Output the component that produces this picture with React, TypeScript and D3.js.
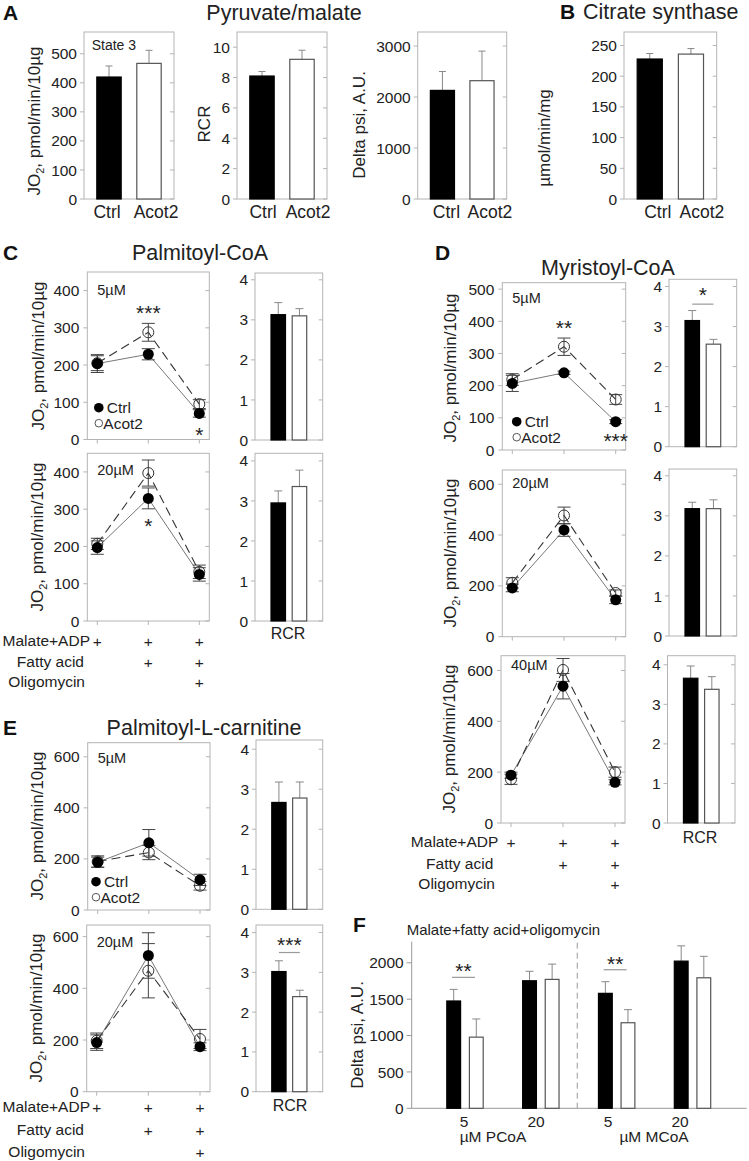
import React from "react";
import * as d3 from "d3";

const FONT = "'Liberation Sans', Arial, Helvetica, sans-serif";
const FRAME = "#b4b4b4";
const TXT = "#222";

// ---------- data ----------
const groups = ["Ctrl", "Acot2"];
const conditionSteps = [0, 1, 2];
const conditionRows = ["Malate+ADP", "Fatty acid", "Oligomycin"];
const conditionMarks = [
  [1, 1, 1],
  [0, 1, 1],
  [0, 0, 1],
];

// A: Pyruvate/malate
const state3Ticks = [0, 100, 200, 300, 400, 500];
const state3Mean = [420, 467];
const state3Err = [38, 45];
const rcrATicks = [0, 2, 4, 6, 8, 10];
const rcrAMean = [8.1, 9.2];
const rcrAErr = [0.3, 0.6];
const psiATicks = [0, 1000, 2000, 3000];
const psiAMean = [2130, 2320];
const psiAErr = [370, 580];
// B: Citrate synthase
const csTicks = [0, 50, 100, 150, 200, 250];
const csMean = [228, 236];
const csErr = [9, 9];

const rcrTicks = [0, 1, 2, 3, 4];
const jo400Ticks = [0, 100, 200, 300, 400];
const jo500Ticks = [0, 100, 200, 300, 400, 500];
const jo600Ticks = [0, 200, 400, 600];

// C: Palmitoyl-CoA
const pcoa5Ctrl = [204, 229, 70];
const pcoa5CtrlErr = [24, 15, 10];
const pcoa5Acot = [205, 288, 95];
const pcoa5AcotErr = [20, 24, 12];
const pcoa5Rcr = [3.13, 3.1];
const pcoa5RcrErr = [0.3, 0.18];
const pcoa20Ctrl = [197, 329, 125];
const pcoa20CtrlErr = [18, 28, 18];
const pcoa20Acot = [207, 397, 132];
const pcoa20AcotErr = [15, 35, 18];
const pcoa20Rcr = [2.95, 3.36];
const pcoa20RcrErr = [0.3, 0.41];

// D: Myristoyl-CoA
const mcoa5Ctrl = [207, 240, 88];
const mcoa5CtrlErr = [25, 5, 6];
const mcoa5Acot = [219, 321, 157];
const mcoa5AcotErr = [18, 27, 15];
const mcoa5Rcr = [3.15, 2.56];
const mcoa5RcrErr = [0.25, 0.12];
const mcoa20Ctrl = [192, 420, 145];
const mcoa20CtrlErr = [15, 25, 15];
const mcoa20Acot = [212, 477, 172];
const mcoa20AcotErr = [20, 33, 12];
const mcoa20Rcr = [3.18, 3.18];
const mcoa20RcrErr = [0.16, 0.22];
const mcoa40Ctrl = [188, 538, 160];
const mcoa40CtrlErr = [12, 50, 10];
const mcoa40Acot = [172, 602, 200];
const mcoa40AcotErr = [20, 45, 20];
const mcoa40Rcr = [3.66, 3.38];
const mcoa40RcrErr = [0.31, 0.32];

// E: Palmitoyl-L-carnitine
const plc5Ctrl = [187, 263, 118];
const plc5CtrlErr = [20, 52, 22];
const plc5Acot = [190, 225, 95];
const plc5AcotErr = [22, 28, 17];
const plc5Rcr = [2.67, 2.78];
const plc5RcrErr = [0.51, 0.4];
const plc20Ctrl = [190, 527, 174];
const plc20CtrlErr = [30, 88, 15];
const plc20Acot = [197, 468, 204];
const plc20AcotErr = [30, 105, 37];
const plc20Rcr = [3.02, 2.39];
const plc20RcrErr = [0.27, 0.16];

// F: Delta psi
const fGroups = ["P5", "P20", "M5", "M20"];
const fLabels = ["5", "20", "5", "20"];
const fTicks = [0, 500, 1000, 1500, 2000];
const fCtrl = [1475, 1753, 1580, 2023];
const fCtrlErr = [160, 130, 160, 210];
const fAcot = [978, 1772, 1176, 1794];
const fAcotErr = [250, 210, 180, 295];

// ---------- helpers ----------
type Sig = { idx: number; text: string; below?: boolean };

function RotLabel({ x, y, size = 17, children }: any) {
  return (
    <text
      transform={`translate(${x},${y}) rotate(-90)`}
      textAnchor="middle"
      fontSize={size}
      fill={TXT}
    >
      {children}
    </text>
  );
}

function JOLabel({ x, y }: { x: number; y: number }) {
  return (
    <RotLabel x={x} y={y}>
      <tspan>JO</tspan>
      <tspan fontSize={11} dy={4}>
        2
      </tspan>
      <tspan dy={-4}>, pmol/min/10µg</tspan>
    </RotLabel>
  );
}

function FramedBars(props: {
  left: number;
  right: number;
  top: number;
  bottom: number;
  yMax: number;
  ticks: number[];
  means: number[];
  errs: number[];
  pi: number;
  po: number;
  cap?: number;
  sig?: string;
  sigLine?: number;
  sigText?: number;
}) {
  const { left, right, top, bottom, yMax, ticks, means, errs, pi, po } = props;
  const cap = props.cap ?? 3.5;
  const y = d3.scaleLinear().domain([0, yMax]).range([bottom, top]);
  const x = d3
    .scaleBand<string>()
    .domain(groups)
    .range([left, right])
    .paddingInner(pi)
    .paddingOuter(po);
  const bw = x.bandwidth();
  const topVal = d3.max(means.map((m, i) => m + errs[i])) as number;
  return (
    <g>
      <rect
        x={left}
        y={top}
        width={right - left}
        height={bottom - top}
        fill="none"
        stroke={FRAME}
      />
      {ticks.map((t) => (
        <g key={t}>
          <line x1={left - 4} x2={left} y1={y(t)} y2={y(t)} stroke={FRAME} />
          <line x1={right - 4} x2={right} y1={y(t)} y2={y(t)} stroke={FRAME} />
          <text
            x={left - 7}
            y={y(t)}
            dy="0.36em"
            textAnchor="end"
            fontSize={15.5}
            fill={TXT}
          >
            {t}
          </text>
        </g>
      ))}
      {groups.map((g, i) => {
        const cx = (x(g) as number) + bw / 2;
        const yt = y(means[i] + errs[i]);
        return (
          <g key={g}>
            <line x1={cx} x2={cx} y1={y(means[i])} y2={yt} stroke="#888" />
            <line x1={cx - cap} x2={cx + cap} y1={yt} y2={yt} stroke="#888" />
            <rect
              x={x(g)}
              y={y(means[i])}
              width={bw}
              height={bottom - y(means[i])}
              fill={i === 0 ? "#000" : "#fff"}
              stroke={i === 0 ? "#000" : "#555"}
              strokeWidth={1.2}
            />
          </g>
        );
      })}
      {props.sig && (
        <g>
          <line
            x1={(x(groups[0]) as number) + bw / 2}
            x2={(x(groups[1]) as number) + bw / 2}
            y1={y(topVal) - (props.sigLine ?? 7)}
            y2={y(topVal) - (props.sigLine ?? 7)}
            stroke="#999"
            strokeWidth={1.2}
          />
          <text
            x={((x(groups[0]) as number) + (x(groups[1]) as number) + bw) / 2}
            y={y(topVal) - (props.sigText ?? 19) + 10.5}
            textAnchor="middle"
            fontSize={21}
            fill={TXT}
          >
            {props.sig}
          </text>
        </g>
      )}
    </g>
  );
}

function LinePanel(props: {
  left: number;
  right: number;
  top: number;
  bottom: number;
  yMax: number;
  ticks: number[];
  ctrl: number[];
  ctrlErr: number[];
  acot: number[];
  acotErr: number[];
  label: string;
  labelY: number;
  sigs?: Sig[];
  legend?: { x: number; y: number };
}) {
  const { left, right, top, bottom, yMax, ticks, ctrl, ctrlErr, acot, acotErr } =
    props;
  const x = d3.scaleLinear().domain([0, 2]).range([left + 10, right - 10]);
  const y = d3.scaleLinear().domain([0, yMax]).range([bottom, top]);
  const line = d3
    .line<number>()
    .x((_, i) => x(conditionSteps[i]))
    .y((d) => y(d));
  const errBars = (vals: number[], errs: number[], key: string) =>
    vals.map((v, i) => {
      const cx = x(conditionSteps[i]);
      const y1 = y(v + errs[i]);
      const y2 = y(v - errs[i]);
      return (
        <g key={key + i} stroke="#444" strokeWidth={1}>
          <line x1={cx} x2={cx} y1={y1} y2={y2} />
          <line x1={cx - 6.5} x2={cx + 6.5} y1={y1} y2={y1} />
          <line x1={cx - 6.5} x2={cx + 6.5} y1={y2} y2={y2} />
        </g>
      );
    });
  return (
    <g>
      <rect
        x={left}
        y={top}
        width={right - left}
        height={bottom - top}
        fill="none"
        stroke={FRAME}
      />
      {ticks.map((t) => (
        <g key={t}>
          <line x1={left - 4} x2={left} y1={y(t)} y2={y(t)} stroke={FRAME} />
          <line x1={right - 4} x2={right} y1={y(t)} y2={y(t)} stroke={FRAME} />
          <text
            x={left - 8}
            y={y(t)}
            dy="0.36em"
            textAnchor="end"
            fontSize={15.5}
            fill={TXT}
          >
            {t}
          </text>
        </g>
      ))}
      {conditionSteps.map((s) => (
        <line
          key={s}
          x1={x(s)}
          x2={x(s)}
          y1={bottom}
          y2={bottom + 4}
          stroke={FRAME}
        />
      ))}
      <text x={left + 10} y={props.labelY} fontSize={14.5} fill={TXT}>
        {props.label}
      </text>
      <path d={line(ctrl) as string} fill="none" stroke="#777" strokeWidth={1} />
      <path
        d={line(acot) as string}
        fill="none"
        stroke="#333"
        strokeWidth={1.1}
        strokeDasharray="9,5"
      />
      {errBars(acot, acotErr, "a")}
      {errBars(ctrl, ctrlErr, "c")}
      {acot.map((v, i) => (
        <circle
          key={"ao" + i}
          cx={x(conditionSteps[i])}
          cy={y(v)}
          r={5.5}
          fill="none"
          stroke="#333"
          strokeWidth={1}
        />
      ))}
      {ctrl.map((v, i) => (
        <circle
          key={"co" + i}
          cx={x(conditionSteps[i])}
          cy={y(v)}
          r={5.5}
          fill="#000"
        />
      ))}
      {(props.sigs || []).map((s, k) => {
        const i = s.idx;
        const yy = s.below
          ? y(Math.min(ctrl[i] - ctrlErr[i], acot[i] - acotErr[i])) + 14
          : y(Math.max(ctrl[i] + ctrlErr[i], acot[i] + acotErr[i])) - 14;
        return (
          <text
            key={"s" + k}
            x={x(conditionSteps[i])}
            y={yy + 10.5}
            textAnchor="middle"
            fontSize={21}
            fill={TXT}
          >
            {s.text}
          </text>
        );
      })}
      {props.legend && (
        <g fontSize={15.5} fill={TXT}>
          <circle cx={props.legend.x} cy={props.legend.y} r={4.8} fill="#000" />
          <text x={props.legend.x + 8} y={props.legend.y + 5.5}>
            Ctrl
          </text>
          <circle
            cx={props.legend.x}
            cy={props.legend.y + 15.5}
            r={3.8}
            fill="none"
            stroke="#555"
          />
          <text x={props.legend.x + 4.5} y={props.legend.y + 21}>
            Acot2
          </text>
        </g>
      )}
    </g>
  );
}

function ConditionTable({
  left,
  right,
  labelEnd,
  baselines,
}: {
  left: number;
  right: number;
  labelEnd: number[];
  baselines: number[];
}) {
  const x = d3.scaleLinear().domain([0, 2]).range([left + 10, right - 10]);
  return (
    <g fontSize={15.5} fill={TXT}>
      {conditionRows.map((r, ri) => (
        <g key={r}>
          <text x={labelEnd[ri]} y={baselines[ri]} textAnchor="end">
            {r}
          </text>
          {conditionMarks[ri].map((m, ci) =>
            m ? (
              <text
                key={ci}
                x={x(conditionSteps[ci])}
                y={baselines[ri] + 1}
                textAnchor="middle"
              >
                +
              </text>
            ) : null
          )}
        </g>
      ))}
    </g>
  );
}

function GroupLabels({
  left,
  right,
  pi,
  po,
  y,
  shift,
}: {
  left: number;
  right: number;
  pi: number;
  po: number;
  y: number;
  shift: number[];
}) {
  const x = d3
    .scaleBand<string>()
    .domain(groups)
    .range([left, right])
    .paddingInner(pi)
    .paddingOuter(po);
  return (
    <g fontSize={17.5} fill={TXT}>
      {groups.map((g, i) => (
        <text
          key={g}
          x={(x(g) as number) + x.bandwidth() / 2 + shift[i]}
          y={y}
          textAnchor="middle"
        >
          {g}
        </text>
      ))}
    </g>
  );
}

function PanelF() {
  const left = 411.7;
  const right = 746.7;
  const top = 941.7;
  const bottom = 1108.3;
  const y = d3.scaleLinear().domain([0, 2290]).range([bottom, top]);
  const gx = d3.scalePoint<string>().domain(fGroups).range([465, 692.5]);
  const lx = d3.scalePoint<string>().domain(fGroups).range([464, 680]);
  const bw = 13.8;
  const off = 4.4;
  const sigGroups = [0, 2];
  return (
    <g>
      <line x1={left} x2={left} y1={top} y2={bottom} stroke="#999" />
      <line x1={left} x2={right} y1={bottom} y2={bottom} stroke="#999" />
      {fTicks.map((t) => (
        <g key={t}>
          <line x1={left - 5} x2={left} y1={y(t)} y2={y(t)} stroke="#999" />
          <text
            x={left - 8}
            y={y(t)}
            dy="0.36em"
            textAnchor="end"
            fontSize={15.5}
            fill={TXT}
          >
            {t}
          </text>
        </g>
      ))}
      <line
        x1={(gx(fGroups[1])! + gx(fGroups[2])!) / 2 - 1.5}
        x2={(gx(fGroups[1])! + gx(fGroups[2])!) / 2 - 1.5}
        y1={top + 1}
        y2={bottom}
        stroke="#999"
        strokeDasharray="6,4"
      />
      {fGroups.map((g, i) => {
        const c = gx(g)!;
        const bars = [
          { v: fCtrl[i], e: fCtrlErr[i], x: c - off - bw, fill: "#000", st: "#000" },
          { v: fAcot[i], e: fAcotErr[i], x: c + off, fill: "#fff", st: "#555" },
        ];
        return (
          <g key={g}>
            {bars.map((b, k) => (
              <g key={k}>
                <line
                  x1={b.x + bw / 2}
                  x2={b.x + bw / 2}
                  y1={y(b.v)}
                  y2={y(b.v + b.e)}
                  stroke="#888"
                />
                <line
                  x1={b.x + bw / 2 - 4}
                  x2={b.x + bw / 2 + 4}
                  y1={y(b.v + b.e)}
                  y2={y(b.v + b.e)}
                  stroke="#888"
                />
                <rect
                  x={b.x}
                  y={y(b.v)}
                  width={bw}
                  height={bottom - y(b.v)}
                  fill={b.fill}
                  stroke={b.st}
                  strokeWidth={1.2}
                />
              </g>
            ))}
            <text
              x={lx(g)}
              y={1127}
              textAnchor="middle"
              fontSize={15.5}
              fill={TXT}
            >
              {fLabels[i]}
            </text>
          </g>
        );
      })}
      {sigGroups.map((i) => {
        const c = gx(fGroups[i])!;
        const tv = Math.max(fCtrl[i] + fCtrlErr[i], fAcot[i] + fAcotErr[i]);
        const ly = y(tv) - 12;
        return (
          <g key={"sig" + i}>
            <line
              x1={c - 13}
              x2={c + 10}
              y1={ly}
              y2={ly}
              stroke="#999"
              strokeWidth={1.2}
            />
            <text
              x={c - 1.5}
              y={ly - 9.5 + 10.5}
              textAnchor="middle"
              fontSize={21}
              fill={TXT}
            >
              **
            </text>
          </g>
        );
      })}
      <text x={493} y={1142} textAnchor="middle" fontSize={15.5} fill={TXT}>
        µM PCoA
      </text>
      <text x={654} y={1142} textAnchor="middle" fontSize={15.5} fill={TXT}>
        µM MCoA
      </text>
      <text x={406.7} y={935} fontSize={15} fill={TXT}>
        Malate+fatty acid+oligomycin
      </text>
      <RotLabel x={363} y={1035}>
        Delta psi, A.U.
      </RotLabel>
    </g>
  );
}

export default function App() {
  const title = { fontSize: 21.5, fill: TXT } as const;
  const letter = { fontSize: 21, fontWeight: 700, fill: "#111" } as const;
  const A_PI = 0.39;
  const A_PO = 0.32;
  const R_PI = 0.316;
  const R_PO = 0.755;
  return (
    <svg
      width={749}
      height={1161}
      viewBox="0 0 749 1161"
      style={{ position: "absolute", left: 0, top: 0, background: "#fff" }}
      fontFamily={FONT}
    >
      <rect x={0} y={0} width={749} height={1161} fill="#fff" />

      {/* ---------- A ---------- */}
      <text x={3} y={20} {...letter}>
        A
      </text>
      <text x={284} y={20} textAnchor="middle" {...title}>
        Pyruvate/malate
      </text>
      <FramedBars
        left={84}
        right={174}
        top={32}
        bottom={199}
        yMax={575}
        ticks={state3Ticks}
        means={state3Mean}
        errs={state3Err}
        pi={A_PI}
        po={A_PO}
      />
      <text x={91.7} y={50} fontSize={14} fill={TXT}>
        State 3
      </text>
      <JOLabel x={40} y={121} />
      <GroupLabels left={84} right={174} pi={A_PI} po={A_PO} y={218} shift={[-2, 7]} />

      <FramedBars
        left={237}
        right={327}
        top={32}
        bottom={199}
        yMax={11}
        ticks={rcrATicks}
        means={rcrAMean}
        errs={rcrAErr}
        pi={A_PI}
        po={A_PO}
      />
      <RotLabel x={210} y={124}>
        RCR
      </RotLabel>
      <GroupLabels left={237} right={327} pi={A_PI} po={A_PO} y={218} shift={[1, 6]} />

      <FramedBars
        left={417.7}
        right={506.7}
        top={32}
        bottom={199}
        yMax={3275}
        ticks={psiATicks}
        means={psiAMean}
        errs={psiAErr}
        pi={A_PI}
        po={A_PO}
      />
      <RotLabel x={364.5} y={125}>
        Delta psi, A.U.
      </RotLabel>
      <GroupLabels left={417.7} right={506.7} pi={A_PI} po={A_PO} y={218} shift={[4, 8]} />

      {/* ---------- B ---------- */}
      <text x={560} y={19} {...letter}>
        B
      </text>
      <text x={583} y={19} {...title}>
        Citrate synthase
      </text>
      <FramedBars
        left={624}
        right={716.7}
        top={32}
        bottom={199}
        yMax={272}
        ticks={csTicks}
        means={csMean}
        errs={csErr}
        pi={A_PI}
        po={A_PO}
      />
      <RotLabel x={550} y={138}>
        µmol/min/mg
      </RotLabel>
      <GroupLabels left={624} right={716.7} pi={A_PI} po={A_PO} y={218} shift={[8, 11]} />

      {/* ---------- C ---------- */}
      <text x={3} y={260} {...letter}>
        C
      </text>
      <text x={200} y={260} textAnchor="middle" {...title}>
        Palmitoyl-CoA
      </text>
      <LinePanel
        left={87.3}
        right={209.3}
        top={272}
        bottom={439.5}
        yMax={450}
        ticks={jo400Ticks}
        ctrl={pcoa5Ctrl}
        ctrlErr={pcoa5CtrlErr}
        acot={pcoa5Acot}
        acotErr={pcoa5AcotErr}
        label="5µM"
        labelY={295}
        sigs={[
          { idx: 1, text: "***" },
          { idx: 2, text: "*", below: true },
        ]}
        legend={{ x: 98.8, y: 407.7 }}
      />
      <JOLabel x={44} y={356} />
      <FramedBars
        left={255}
        right={322.7}
        top={273}
        bottom={440}
        yMax={4.17}
        ticks={rcrTicks}
        means={pcoa5Rcr}
        errs={pcoa5RcrErr}
        pi={R_PI}
        po={R_PO}
        cap={4}
      />
      <LinePanel
        left={87.3}
        right={209.3}
        top={453.3}
        bottom={621}
        yMax={450}
        ticks={jo400Ticks}
        ctrl={pcoa20Ctrl}
        ctrlErr={pcoa20CtrlErr}
        acot={pcoa20Acot}
        acotErr={pcoa20AcotErr}
        label="20µM"
        labelY={475}
        sigs={[{ idx: 1, text: "*", below: true }]}
      />
      <JOLabel x={43} y={537} />
      <FramedBars
        left={255}
        right={322.7}
        top={453.3}
        bottom={621}
        yMax={4.19}
        ticks={rcrTicks}
        means={pcoa20Rcr}
        errs={pcoa20RcrErr}
        pi={R_PI}
        po={R_PO}
        cap={4}
      />
      <text x={288} y={639} textAnchor="middle" fontSize={16} fill={TXT}>
        RCR
      </text>
      <ConditionTable
        left={87.3}
        right={209.3}
        labelEnd={[90, 84, 85]}
        baselines={[646, 667, 687]}
      />

      {/* ---------- D ---------- */}
      <text x={435} y={260} {...letter}>
        D
      </text>
      <text x={608} y={275} textAnchor="middle" {...title}>
        Myristoyl-CoA
      </text>
      <LinePanel
        left={502.3}
        right={625.7}
        top={282.7}
        bottom={450}
        yMax={520}
        ticks={jo500Ticks}
        ctrl={mcoa5Ctrl}
        ctrlErr={mcoa5CtrlErr}
        acot={mcoa5Acot}
        acotErr={mcoa5AcotErr}
        label="5µM"
        labelY={303}
        sigs={[
          { idx: 1, text: "**" },
          { idx: 2, text: "***", below: true },
        ]}
        legend={{ x: 516.7, y: 421.7 }}
      />
      <JOLabel x={456} y={368} />
      <FramedBars
        left={669}
        right={736.7}
        top={279.3}
        bottom={446.7}
        yMax={4.18}
        ticks={rcrTicks}
        means={mcoa5Rcr}
        errs={mcoa5RcrErr}
        pi={R_PI}
        po={R_PO}
        cap={4}
        sig="*"
        sigLine={6.4}
        sigText={19}
      />
      <LinePanel
        left={502.3}
        right={625.7}
        top={470}
        bottom={636.7}
        yMax={656}
        ticks={jo600Ticks}
        ctrl={mcoa20Ctrl}
        ctrlErr={mcoa20CtrlErr}
        acot={mcoa20Acot}
        acotErr={mcoa20AcotErr}
        label="20µM"
        labelY={488}
      />
      <JOLabel x={456} y={553} />
      <FramedBars
        left={669}
        right={736.7}
        top={469}
        bottom={636}
        yMax={4.17}
        ticks={rcrTicks}
        means={mcoa20Rcr}
        errs={mcoa20RcrErr}
        pi={R_PI}
        po={R_PO}
        cap={4}
      />
      <LinePanel
        left={501}
        right={625}
        top={655.7}
        bottom={823}
        yMax={658}
        ticks={jo600Ticks}
        ctrl={mcoa40Ctrl}
        ctrlErr={mcoa40CtrlErr}
        acot={mcoa40Acot}
        acotErr={mcoa40AcotErr}
        label="40µM"
        labelY={670}
      />
      <JOLabel x={455} y={739} />
      <FramedBars
        left={667.5}
        right={735}
        top={655.7}
        bottom={823}
        yMax={4.23}
        ticks={rcrTicks}
        means={mcoa40Rcr}
        errs={mcoa40RcrErr}
        pi={R_PI}
        po={R_PO}
        cap={4}
      />
      <text x={700} y={842.5} textAnchor="middle" fontSize={16} fill={TXT}>
        RCR
      </text>
      <ConditionTable
        left={501}
        right={625}
        labelEnd={[498.3, 493.3, 495]}
        baselines={[847, 868.5, 889]}
      />

      {/* ---------- E ---------- */}
      <text x={3} y={735} {...letter}>
        E
      </text>
      <text x={204} y={735} textAnchor="middle" {...title}>
        Palmitoyl-L-carnitine
      </text>
      <LinePanel
        left={87.7}
        right={210}
        top={742.7}
        bottom={910}
        yMax={655}
        ticks={jo600Ticks}
        ctrl={plc5Ctrl}
        ctrlErr={plc5CtrlErr}
        acot={plc5Acot}
        acotErr={plc5AcotErr}
        label="5µM"
        labelY={763}
        legend={{ x: 96, y: 881.7 }}
      />
      <JOLabel x={43} y={826} />
      <FramedBars
        left={256}
        right={322.7}
        top={740}
        bottom={909.3}
        yMax={4.23}
        ticks={rcrTicks}
        means={plc5Rcr}
        errs={plc5RcrErr}
        pi={R_PI}
        po={R_PO}
        cap={4}
      />
      <LinePanel
        left={86.7}
        right={210}
        top={925}
        bottom={1091.7}
        yMax={645}
        ticks={jo600Ticks}
        ctrl={plc20Ctrl}
        ctrlErr={plc20CtrlErr}
        acot={plc20Acot}
        acotErr={plc20AcotErr}
        label="20µM"
        labelY={947}
      />
      <JOLabel x={42} y={1008} />
      <FramedBars
        left={256}
        right={322.7}
        top={925}
        bottom={1091.7}
        yMax={4.19}
        ticks={rcrTicks}
        means={plc20Rcr}
        errs={plc20RcrErr}
        pi={R_PI}
        po={R_PO}
        cap={4}
        sig="***"
        sigLine={8.3}
        sigText={19.3}
      />
      <text x={290} y={1111} textAnchor="middle" fontSize={16} fill={TXT}>
        RCR
      </text>
      <ConditionTable
        left={86.7}
        right={210}
        labelEnd={[90, 84, 85]}
        baselines={[1112, 1135, 1157]}
      />

      {/* ---------- F ---------- */}
      <text x={353} y={932} {...letter}>
        F
      </text>
      <PanelF />
    </svg>
  );
}
